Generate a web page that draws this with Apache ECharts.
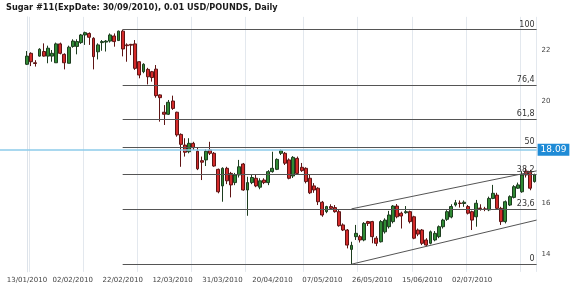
<!DOCTYPE html>
<html><head><meta charset="utf-8">
<script src="https://cdn.jsdelivr.net/npm/echarts@6/dist/echarts.min.js"></script>
<style>html,body{margin:0;padding:0;background:#fff}#c{width:570px;height:293px}</style>
</head><body><div id="c"></div>
<script>
// ---- data ----
const open = [21.44,21.87,21.50,21.76,21.94,21.76,21.76,21.50,22.24,21.83,21.48,22.14,22.14,22.29,22.59,22.65,22.46,21.93,22.29,22.31,
22.35,22.55,22.37,22.74,22.20,22.22,22.24,21.54,21.15,21.24,21.15,21.25,20.24,19.56,19.48,20.00,19.56,18.69,18.27,18.01,
18.34,18.03,17.66,17.69,18.08,17.95,17.32,16.67,17.36,17.16,16.80,17.10,17.53,16.51,16.80,16.97,16.62,16.90,16.80,17.23,
17.32,17.95,17.95,17.69,17.06,17.75,17.40,17.36,16.97,16.67,16.58,16.03,15.66,15.86,15.82,15.66,15.14,14.94,14.18,14.68,
14.68,14.55,15.27,15.27,14.62,14.48,14.87,15.07,15.27,15.88,15.60,15.62,15.66,15.46,14.94,14.94,14.55,14.42,14.55,14.68,
15.07,15.36,15.45,15.92,16.00,15.98,15.86,15.66,15.46,15.80,15.77,15.73,16.18,16.31,15.79,15.27,15.92,16.22,16.58,16.44,
17.25,17.23,16.84];
const high = [21.96,21.91,21.60,22.07,22.26,22.17,22.00,22.29,22.29,21.87,22.17,22.42,22.42,22.63,22.72,22.69,22.50,22.26,22.39,22.39,
22.65,22.65,22.76,22.80,22.26,22.24,22.39,21.56,21.48,21.30,21.18,21.41,20.26,19.84,20.04,20.21,19.58,18.73,18.54,18.54,
18.40,18.18,17.82,18.10,18.40,18.00,17.35,17.40,17.42,17.22,17.18,17.69,17.57,17.03,17.10,17.10,16.97,16.97,17.29,18.01,
17.75,18.10,18.00,17.75,17.84,17.82,17.57,17.40,17.10,16.78,16.62,16.08,15.89,15.95,15.92,15.73,15.20,14.98,14.48,15.14,
14.75,15.25,15.30,15.30,14.70,15.33,15.40,15.69,15.92,15.96,15.66,15.88,15.70,15.50,15.00,14.98,14.62,14.92,14.90,15.12,
15.38,15.72,15.95,16.12,16.10,16.10,15.92,15.70,16.12,15.95,15.85,16.25,16.71,16.40,15.85,16.10,16.30,16.70,16.80,17.25,
17.37,17.30,17.15];
const low = [21.41,21.37,21.35,21.74,21.74,21.48,21.54,21.50,21.83,21.24,21.48,22.09,21.83,22.24,22.20,22.20,21.24,21.63,21.97,21.94,
22.29,22.13,22.37,21.75,21.54,21.80,21.22,20.89,21.09,20.65,20.76,20.13,19.19,19.06,19.45,19.65,18.60,17.42,17.82,17.95,
18.08,17.29,16.90,17.45,17.88,17.42,16.38,16.05,16.74,16.22,16.70,17.00,16.48,15.50,16.74,16.62,16.54,16.74,16.70,17.19,
17.29,17.88,17.49,16.93,16.98,17.10,17.22,16.77,16.35,16.40,15.92,15.46,15.60,15.73,15.62,15.07,14.90,14.22,13.60,14.55,
14.45,14.50,15.10,14.42,14.31,14.45,14.80,15.00,15.20,15.40,15.00,15.58,15.20,14.58,14.70,14.35,14.30,14.38,14.50,14.62,
15.00,15.30,15.40,15.86,15.82,15.85,15.55,14.94,15.07,15.70,15.68,15.68,16.15,15.75,15.14,15.20,15.88,16.18,16.55,16.40,
17.00,16.50,16.80];
const close = [21.76,21.54,21.47,22.03,21.76,22.07,21.87,22.24,21.87,21.50,22.11,22.35,22.33,22.59,22.68,22.50,21.74,22.20,22.33,22.35,
22.59,22.33,22.74,22.04,22.17,22.19,21.28,21.02,21.44,20.95,20.92,20.21,20.13,19.48,19.95,19.71,18.67,18.30,17.99,18.34,
18.17,17.34,17.60,18.03,17.95,17.45,16.44,17.36,16.87,16.71,17.10,17.42,16.51,16.80,17.00,16.67,16.87,16.80,17.23,17.36,
17.71,18.05,17.56,16.97,17.79,17.16,17.27,16.84,16.40,16.51,16.05,15.53,15.86,15.79,15.66,15.11,14.94,14.35,14.34,14.81,
14.55,15.20,15.20,14.68,14.42,15.27,15.33,15.53,15.88,15.46,15.49,15.66,15.27,14.62,14.78,14.42,14.35,14.87,14.81,15.07,
15.33,15.66,15.86,16.01,15.98,16.03,15.60,15.33,15.99,15.78,15.75,16.18,16.38,15.79,15.27,16.05,16.25,16.64,16.71,17.10,
17.10,16.58,17.10];

const tickLabels = ['13/01/2010','02/02/2010','22/02/2010','12/03/2010','31/03/2010','20/04/2010','07/05/2010','26/05/2010','15/06/2010','02/07/2010'];
const tickIdx = [0,11,23,35,47,59,71,83,95,107];
const gridIdx = [1,14,27,40,53,67,80,93,106,119];
const yTicks = [14,16,20,22];

const fibRatios = [0,23.6,38.2,50,61.8,76.4,100];
const fibHighBar = 23, fibLowBar = 78;
const channelUpper = [[78,15.77],[122.5,17.26]];
const channelLower = [[78,13.60],[122.5,15.33]];
const lastPrice = 18.09;

// trading-day categories
const categories = [];
(function(){
  const d = new Date(Date.UTC(2010,0,13));
  const p = n => (n<10?'0':'')+n;
  while (categories.length < open.length) {
    const w = d.getUTCDay();
    if (w !== 0 && w !== 6) categories.push(p(d.getUTCDate())+'/'+p(d.getUTCMonth()+1)+'/'+d.getUTCFullYear());
    d.setUTCDate(d.getUTCDate()+1);
  }
})();

const N = open.length;
const ohlc = open.map((o,i)=>[o, close[i], low[i], high[i]]);
const fibHi = high[fibHighBar], fibLo = low[fibLowBar];
const fibLevel = r => fibLo + r/100*(fibHi - fibLo);
const FONT = 'DejaVu Sans';

const chart = echarts.init(document.getElementById('c'), null, {renderer:'canvas'});
const yMin = 13.3, yMax = 23.3;
const G = {top:16.85, bottom:21.15, right:33.4};
chart.setOption({
  animation:false,
  backgroundColor:'#fff',
  title:{text:'Sugar #11(ExpDate: 30/09/2010), 0.01 USD/POUNDS, Daily', left:1, top:-1,
    textStyle:{fontFamily:FONT, fontSize:8.2, fontWeight:'bold', color:'#1a1a1a'}},
  grid:[
    {left:24.9, right:G.right, top:G.top, bottom:G.bottom, outerBoundsMode:'none'},
    {left:0, right:G.right, top:G.top, bottom:G.bottom, outerBoundsMode:'none'}
  ],
  xAxis:[
    {type:'category', gridIndex:0, data:categories, boundaryGap:true,
      axisLine:{show:false}, axisTick:{show:false},
      axisLabel:{interval:(i)=>tickIdx.indexOf(i)>=0,
        formatter:(v,i)=>{const k=tickIdx.indexOf(i); return k>=0?tickLabels[k]:'';},
        fontFamily:FONT, fontSize:7, color:'#444', margin:5},
      splitLine:{show:true, interval:(i)=>gridIdx.indexOf(i)>=0, lineStyle:{color:'#e3e8ee', width:1}}},
    {type:'value', gridIndex:0, min:-0.5, max:N-0.5, show:false},
    {type:'value', gridIndex:1, min:0, max:1, show:false}
  ],
  yAxis:[
    {type:'value', gridIndex:0, position:'right', min:yMin, max:yMax, scale:true,
      splitLine:{show:false}, axisTick:{show:false},
      axisLine:{show:true, lineStyle:{color:'#dde3ea'}},
      axisLabel:{customValues:yTicks, fontFamily:FONT, fontSize:7, color:'#444', margin:5}},
    {type:'value', gridIndex:1, min:yMin, max:yMax, show:false}
  ],
  series:[
    {type:'line', xAxisIndex:2, yAxisIndex:1, data:[], silent:true,
      markLine:{symbol:'none', silent:true, animation:false,
        lineStyle:{color:'#8ccbea', width:1.5, type:'solid'},
        label:{position:'end', formatter:()=>lastPrice.toFixed(2), color:'#fff', backgroundColor:'#1f8bd6',
          padding:[2,3,1,3], fontFamily:FONT, fontSize:9, distance:1},
        data:[{yAxis:lastPrice}]}},
    {type:'candlestick', xAxisIndex:0, yAxisIndex:0, data:ohlc, barWidth:3.4,
      itemStyle:{color:'#2f8a34', color0:'#d42a2a', borderColor:'#1d3d1f', borderColor0:'#5e1414', borderWidth:1}},
    {type:'line', xAxisIndex:1, yAxisIndex:0, data:[], silent:true,
      markLine:{symbol:'none', silent:true, animation:false,
        lineStyle:{color:'#555', width:1, type:'solid'},
        label:{position:'insideEndTop', formatter:'{b}', color:'#333', fontFamily:FONT, fontSize:8, distance:[2,1]},
        data:fibRatios.map(r=>[{coord:[fibHighBar, fibLevel(r)], name:String(r).replace('.',',')},{coord:[N-0.5, fibLevel(r)]}])}},
    {type:'line', xAxisIndex:1, yAxisIndex:0, data:channelUpper, showSymbol:false, silent:true,
      lineStyle:{color:'#555', width:1}},
    {type:'line', xAxisIndex:1, yAxisIndex:0, data:channelLower, showSymbol:false, silent:true,
      lineStyle:{color:'#555', width:1}}
  ]
});
</script></body></html>
